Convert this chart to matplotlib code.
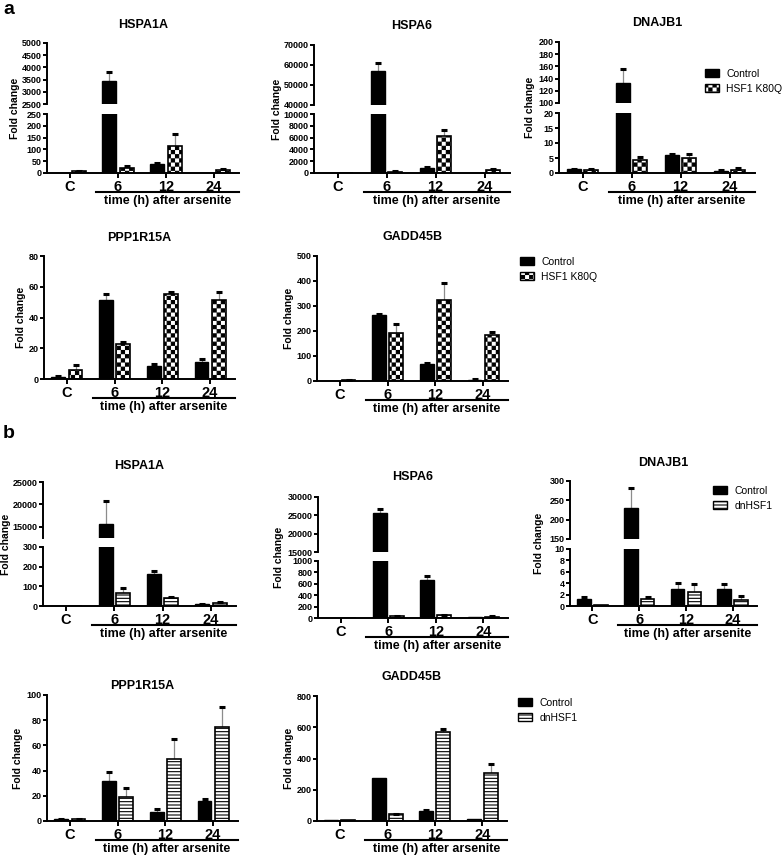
import warnings

import matplotlib.pyplot as plt
import numpy as np
from matplotlib import hatch as mhatch
from matplotlib.patches import Patch
from matplotlib.path import Path
from matplotlib.ticker import FormatStrFormatter
from matplotlib.transforms import blended_transform_factory

warnings.filterwarnings("ignore")

OUTPUT_FILE = "out.png"

FIG_W = 782
FIG_H = 856

GROUPS = ["C", "6", "12", "24"]
TIME_LABEL = "time (h) after arsenite"
LEGEND_A = ["Control", "HSF1 K80Q"]
LEGEND_B = ["Control", "dnHSF1"]

# panel a: control vs HSF1 K80Q, mean and SEM (fold change)
A_HSPA1A_CONTROL = [1, 3430, 37, 1]
A_HSPA1A_CONTROL_SEM = [0, 390, 7, 0]
A_HSPA1A_K80Q = [8, 22, 116, 14]
A_HSPA1A_K80Q_SEM = [2, 8, 49, 4]

A_HSPA6_CONTROL = [1, 56900, 850, 60]
A_HSPA6_CONTROL_SEM = [0, 4200, 220, 0]
A_HSPA6_K80Q = [1, 200, 6350, 500]
A_HSPA6_K80Q_SEM = [0, 60, 900, 120]

A_DNAJB1_CONTROL = [1.2, 132, 5.9, 0.7]
A_DNAJB1_CONTROL_SEM = [0.1, 24, 0.3, 0.3]
A_DNAJB1_K80Q = [1.0, 4.4, 4.9, 1.0]
A_DNAJB1_K80Q_SEM = [0.2, 0.9, 1.6, 0.8]

A_PPP1R15A_CONTROL = [1.5, 51.6, 8.2, 11.2]
A_PPP1R15A_CONTROL_SEM = [0.3, 3.9, 1.5, 1.7]
A_PPP1R15A_K80Q = [5.6, 22.8, 55.0, 51.2]
A_PPP1R15A_K80Q_SEM = [3.6, 1.5, 1.8, 5.1]

A_GADD45B_CONTROL = [1, 265, 69, 5]
A_GADD45B_CONTROL_SEM = [0, 3, 4, 1]
A_GADD45B_K80Q = [3, 192, 325, 183]
A_GADD45B_K80Q_SEM = [1, 36, 67, 13]

# panel b: control vs dnHSF1
B_HSPA1A_CONTROL = [1, 15600, 163, 8]
B_HSPA1A_CONTROL_SEM = [0, 5200, 14, 1]
B_HSPA1A_DN = [1, 66, 40, 15]
B_HSPA1A_DN_SEM = [0, 28, 8, 3]

B_HSPA6_CONTROL = [1, 25700, 660, 20]
B_HSPA6_CONTROL_SEM = [0, 1000, 80, 0]
B_HSPA6_DN = [1, 30, 50, 25]
B_HSPA6_DN_SEM = [0, 5, 10, 5]

B_DNAJB1_CONTROL = [1.2, 230, 2.9, 2.9]
B_DNAJB1_CONTROL_SEM = [0.3, 51, 1.2, 1.0]
B_DNAJB1_DN = [0.2, 1.2, 2.4, 1.1]
B_DNAJB1_DN_SEM = [0, 0.4, 1.4, 0.6]

B_PPP1R15A_CONTROL = [1.6, 31.5, 6.9, 15.6]
B_PPP1R15A_CONTROL_SEM = [0.2, 7.5, 2.9, 1.6]
B_PPP1R15A_DN = [1.3, 18.8, 49.5, 74.7]
B_PPP1R15A_DN_SEM = [0.2, 7.7, 15.9, 15.9]

B_GADD45B_CONTROL = [5, 276, 64, 15]
B_GADD45B_CONTROL_SEM = [0, 0, 9, 0]
B_GADD45B_DN = [5, 43, 571, 308]
B_GADD45B_DN_SEM = [0, 3, 17, 60]

CHECKER = "cccc"
STRIPES = "-----"

BAR_WIDTH = 0.29
BAR_OFFSET = 0.18

# boxes are pixel positions (left, top, right, bottom) in the 782x856 figure
PANELS = [
    dict(gene="HSPA1A", hatch=CHECKER,
         data=(A_HSPA1A_CONTROL, A_HSPA1A_CONTROL_SEM, A_HSPA1A_K80Q, A_HSPA1A_K80Q_SEM),
         box=(47, 43, 239, 173), lower=(0, 250, 50), upper=(2500, 5000, 500),
         gap=(104, 114), title_y=25, label_x=15),
    dict(gene="HSPA6", hatch=CHECKER,
         data=(A_HSPA6_CONTROL, A_HSPA6_CONTROL_SEM, A_HSPA6_K80Q, A_HSPA6_K80Q_SEM),
         box=(314, 45, 510, 173), lower=(0, 10000, 2000), upper=(40000, 70000, 10000),
         gap=(105, 114), title_y=26, label_x=277),
    dict(gene="DNAJB1", hatch=CHECKER,
         data=(A_DNAJB1_CONTROL, A_DNAJB1_CONTROL_SEM, A_DNAJB1_K80Q, A_DNAJB1_K80Q_SEM),
         box=(559, 42, 755, 173), lower=(0, 20, 5), upper=(100, 200, 20),
         gap=(103, 113), title_y=23, label_x=530),
    dict(gene="PPP1R15A", hatch=CHECKER,
         data=(A_PPP1R15A_CONTROL, A_PPP1R15A_CONTROL_SEM, A_PPP1R15A_K80Q, A_PPP1R15A_K80Q_SEM),
         box=(44, 256, 235, 379), lower=(0, 80, 20), title_y=238, label_x=21),
    dict(gene="GADD45B", hatch=CHECKER,
         data=(A_GADD45B_CONTROL, A_GADD45B_CONTROL_SEM, A_GADD45B_K80Q, A_GADD45B_K80Q_SEM),
         box=(317, 256, 508, 381), lower=(0, 500, 100), title_y=237, label_x=289),
    dict(gene="HSPA1A", hatch=STRIPES,
         data=(B_HSPA1A_CONTROL, B_HSPA1A_CONTROL_SEM, B_HSPA1A_DN, B_HSPA1A_DN_SEM),
         box=(43, 482, 236, 606), lower=(0, 300, 100), upper=(12500, 25000, 5000),
         gap=(538, 547), title_y=466, label_x=6),
    dict(gene="HSPA6", hatch=STRIPES,
         data=(B_HSPA6_CONTROL, B_HSPA6_CONTROL_SEM, B_HSPA6_DN, B_HSPA6_DN_SEM),
         box=(318, 497, 508, 618), lower=(0, 1000, 200), upper=(15000, 30000, 5000),
         gap=(552, 561), title_y=477, label_x=279),
    dict(gene="DNAJB1", hatch=STRIPES,
         data=(B_DNAJB1_CONTROL, B_DNAJB1_CONTROL_SEM, B_DNAJB1_DN, B_DNAJB1_DN_SEM),
         box=(570, 481, 757, 606), lower=(0, 10, 2), upper=(150, 300, 50),
         gap=(539, 549), title_y=463, label_x=539),
    dict(gene="PPP1R15A", hatch=STRIPES,
         data=(B_PPP1R15A_CONTROL, B_PPP1R15A_CONTROL_SEM, B_PPP1R15A_DN, B_PPP1R15A_DN_SEM),
         box=(47, 695, 238, 821), lower=(0, 100, 20), title_y=686, label_x=18),
    dict(gene="GADD45B", hatch=STRIPES,
         data=(B_GADD45B_CONTROL, B_GADD45B_CONTROL_SEM, B_GADD45B_DN, B_GADD45B_DN_SEM),
         box=(317, 696, 507, 821), lower=(0, 800, 200), title_y=677, label_x=289),
]

LEGENDS = [
    (LEGEND_A, CHECKER, 705, 69),
    (LEGEND_A, CHECKER, 520, 257),
    (LEGEND_B, STRIPES, 713, 486),
    (LEGEND_B, STRIPES, 518, 698),
]

PANEL_LETTERS = [("a", 9, 10), ("b", 9, 433)]


class CheckerHatch(mhatch.HatchPatternBase):
    """Filled checkerboard hatch, used with the letter 'c'."""

    def __init__(self, hatch, density):
        self.cells = hatch.count("c") * density
        self.num_vertices = (self.cells * self.cells // 2) * 5

    def set_vertices_and_codes(self, vertices, codes):
        step = 1.0 / self.cells
        inset = 0.005
        k = 0
        for i in range(self.cells):
            for j in range(self.cells):
                if (i + j) % 2:
                    continue
                x0, x1 = i * step + inset, (i + 1) * step - inset
                y0, y1 = j * step + inset, (j + 1) * step - inset
                vertices[k:k + 5] = [(x0, y0), (x1, y0), (x1, y1), (x0, y1), (x0, y0)]
                codes[k] = Path.MOVETO
                codes[k + 1:k + 4] = Path.LINETO
                codes[k + 4] = Path.CLOSEPOLY
                k += 5


mhatch._hatch_types.append(CheckerHatch)


def px_rect(left, top, right, bottom):
    return [
        left / FIG_W,
        1 - bottom / FIG_H,
        (right - left) / FIG_W,
        (bottom - top) / FIG_H,
    ]


def draw_errors(axes, positions, means, sems):
    for x, mean, sem in zip(positions, means, sems):
        if sem <= 0:
            continue
        axes.vlines(x, mean, mean + sem, color="0.55", linewidth=0.9, zorder=1.5)
        axes.plot(
            x, mean + sem,
            marker="_", markersize=5, markeredgewidth=2.2,
            color="black", zorder=3,
        )


def draw_bars(axes, data, hatch):
    control, control_sem, treated, treated_sem = data
    positions = np.arange(len(GROUPS))

    axes.bar(
        positions - BAR_OFFSET, control, BAR_WIDTH,
        color="black", edgecolor="black", linewidth=1.0, zorder=2,
    )
    axes.bar(
        positions + BAR_OFFSET, treated, BAR_WIDTH,
        facecolor="white", edgecolor="black", hatch=hatch,
        linewidth=1.2, zorder=2,
    )

    draw_errors(axes, positions - BAR_OFFSET, control, control_sem)
    draw_errors(axes, positions + BAR_OFFSET, treated, treated_sem)


def style_axes(axes, limits):
    low, high, step = limits
    first = np.ceil(low / step) * step

    axes.set_xlim(-0.48, 3.52)
    axes.set_ylim(low, high)
    axes.set_yticks(np.arange(first, high + step * 0.01, step))
    axes.yaxis.set_major_formatter(FormatStrFormatter("%d"))

    for side in ("top", "right"):
        axes.spines[side].set_visible(False)
    for side in ("left", "bottom"):
        axes.spines[side].set_linewidth(1.4)

    axes.tick_params(
        axis="y", direction="out", width=1.4, length=3,
        labelsize=6.5, pad=1,
    )


def plot_panel(figure, panel):
    left, top, right, bottom = panel["box"]

    if "gap" in panel:
        upper_bottom, lower_top = panel["gap"]
        upper = figure.add_axes(px_rect(left, top, right, upper_bottom))
        lower = figure.add_axes(px_rect(left, lower_top, right, bottom))

        draw_bars(upper, panel["data"], panel["hatch"])
        style_axes(upper, panel["upper"])
        upper.spines["bottom"].set_visible(False)
        upper.tick_params(axis="x", bottom=False, labelbottom=False)
        lower_height = bottom - lower_top
    else:
        lower = figure.add_axes(px_rect(left, top, right, bottom))
        lower_height = bottom - top

    draw_bars(lower, panel["data"], panel["hatch"])
    style_axes(lower, panel["lower"])

    lower.set_xticks(np.arange(len(GROUPS)))
    lower.set_xticklabels(GROUPS, fontsize=10.5)
    lower.tick_params(axis="x", direction="out", width=1.4, length=3.5, pad=1.2)

    blended = blended_transform_factory(lower.transData, lower.transAxes)
    line_y = -19 / lower_height
    lower.plot(
        [0.54, 3.52], [line_y, line_y],
        color="black", linewidth=1.5,
        transform=blended, clip_on=False,
    )
    lower.text(
        2.03, -28 / lower_height, TIME_LABEL,
        transform=blended, ha="center", va="center", fontsize=9,
    )

    figure.text(
        (left + right) / 2 / FIG_W, 1 - panel["title_y"] / FIG_H,
        panel["gene"], ha="center", va="center", fontsize=9,
    )
    figure.text(
        panel["label_x"] / FIG_W, 1 - (top + bottom) / 2 / FIG_H,
        "Fold change", rotation=90, ha="center", va="center", fontsize=7.5,
    )


def add_legend(figure, labels, hatch, x, y):
    handles = [
        Patch(facecolor="black", edgecolor="black", linewidth=1.0),
        Patch(facecolor="white", edgecolor="black", hatch=hatch, linewidth=1.0),
    ]
    figure.legend(
        handles, labels,
        loc="upper left",
        bbox_to_anchor=(x / FIG_W, 1 - y / FIG_H),
        frameon=False,
        borderpad=0, borderaxespad=0,
        handlelength=1.35, handleheight=0.8,
        handletextpad=0.7, labelspacing=0.45,
        prop={"size": 7.5, "weight": "normal"},
    )


def main() -> None:
    plt.rcParams["font.family"] = ["Liberation Sans", "DejaVu Sans"]
    plt.rcParams["font.weight"] = "bold"
    plt.rcParams["hatch.linewidth"] = 0.8

    figure = plt.figure(figsize=(FIG_W / 100, FIG_H / 100), dpi=100)

    for panel in PANELS:
        plot_panel(figure, panel)

    for labels, hatch, x, y in LEGENDS:
        add_legend(figure, labels, hatch, x, y)

    for letter, x, y in PANEL_LETTERS:
        figure.text(
            x / FIG_W, 1 - y / FIG_H, letter,
            ha="center", va="center", fontsize=14,
        )

    figure.savefig(OUTPUT_FILE, dpi=100)
    plt.close(figure)


if __name__ == "__main__":
    main()
